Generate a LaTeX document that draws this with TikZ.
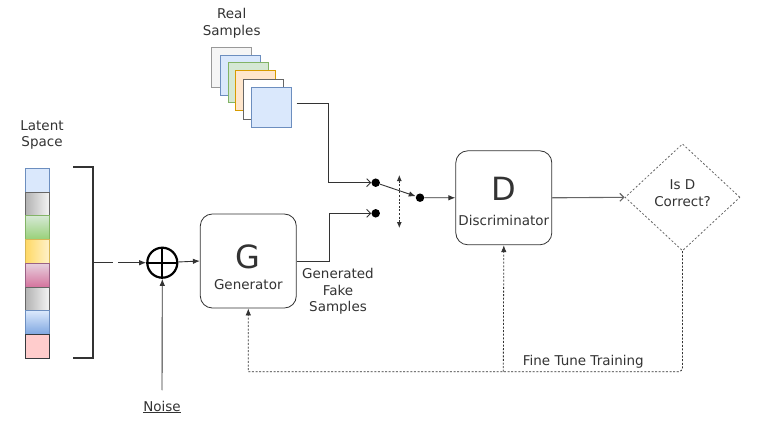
\documentclass[tikz,border=0pt]{standalone}
\usepackage{fontspec}
\setmainfont{DejaVu Sans}
\usetikzlibrary{arrows.meta,shapes.geometric,positioning}

\definecolor{txt}{HTML}{333333}
\definecolor{blueF}{HTML}{DAE8FC}
\definecolor{blueL}{HTML}{6C8EBF}
\definecolor{blueD}{HTML}{7EA6E0}
\definecolor{greenF}{HTML}{D5E8D4}
\definecolor{greenD}{HTML}{97D077}
\definecolor{greenL}{HTML}{82B366}
\definecolor{yellowF}{HTML}{FFF2CC}
\definecolor{yellowD}{HTML}{FFD966}
\definecolor{yellowL}{HTML}{D6B656}
\definecolor{pinkF}{HTML}{E6D0DE}
\definecolor{pinkD}{HTML}{D5739D}
\definecolor{pinkL}{HTML}{996185}
\definecolor{redF}{HTML}{FFCCCC}
\definecolor{redL}{HTML}{36393D}
\definecolor{grayF}{HTML}{F5F5F5}
\definecolor{grayD}{HTML}{B3B3B3}
\definecolor{grayL}{HTML}{666666}
\definecolor{orangeF}{HTML}{FFE6CC}
\definecolor{orangeL}{HTML}{D79B00}

\begin{document}
\begin{tikzpicture}[x=1pt,y=-1pt, font=\fontsize{13.5}{16.5}\selectfont, text=txt,
  cell/.style={draw, minimum width=24pt, minimum height=23.75pt, inner sep=0pt, line width=0.8pt},
  sample/.style={draw, minimum size=40pt, inner sep=0pt, line width=0.8pt},
  block/.style={draw=txt, rounded corners=12pt, minimum width=96pt, minimum height=94pt, line width=0.8pt},
  dot/.style={circle, fill=black, inner sep=0pt, minimum size=8.5pt},
  wire/.style={draw=txt, line width=0.9pt},
  tip/.style={-{Latex[length=7pt,width=5.5pt]}},
  opentip/.style={-{Straight Barb[length=4pt,width=8pt]}},
  feedback/.style={draw=txt, line width=0.8pt, dash pattern=on 2pt off 1.6pt}]
\useasboundingbox (0,0) rectangle (759,420);

% latent space
\node (latent) at (42,135) [align=center] {Latent\\Space};
\node[cell, fill=blueF, draw=blueL] (c1) at (37.7,180.2) {};
\node[cell, left color=grayD, right color=grayF, draw=grayL] (c2) at (37.7,204.0) {};
\node[cell, top color=greenF, bottom color=greenD, draw=greenL] (c3) at (37.7,227.7) {};
\node[cell, left color=yellowD, right color=yellowF, draw=yellowL] (c4) at (37.7,251.5) {};
\node[cell, top color=pinkF, bottom color=pinkD, draw=pinkL] (c5) at (37.7,275.2) {};
\node[cell, left color=grayD, right color=grayF, draw=grayL] (c6) at (37.7,299.0) {};
\node[cell, top color=blueF, bottom color=blueD, draw=blueL] (c7) at (37.7,322.7) {};
\node[cell, fill=redF, draw=redL] (c8) at (37.7,346.5) {};
\draw[txt, line width=1.4pt] (73,167) -- (93,167) -- (93,358) -- (73,358);
\draw[txt, line width=1.4pt] (93,262.7) -- (113,262.7);
\coordinate (brk) at (118,262.7);

% noise and sum
\node[circle, draw=black, line width=2.2pt, minimum size=30pt, inner sep=0pt] (sum) at (162.3,262.7) {};
\draw[black, line width=2.2pt] (sum.north) -- (sum.south) (sum.west) -- (sum.east);
\node (noise) at (162,407) {\underline{Noise}};
\draw[wire, tip] ([yshift=7pt]noise.north) -- (sum.south);
\draw[wire, tip] (brk) -- (sum);

% generator
\node[block] (gen) at (248.3,261) {};
\node (gname) at (248.3,257) {\fontsize{32}{32}\selectfont G};
\node (gtext) at (248.3,284.7) {Generator};
\draw[wire, tip] (sum) -- (gen.west);
\node (fake) at (338,291.5) [align=center] {Generated\\Fake\\Samples};

% real samples
\node (real) at (231.7,23.3) [align=center] {Real\\Samples};
\node[sample, fill=grayF, draw=black!40] (r1) at (231.7,67.3) {};
\node[sample, fill=blueF, draw=blueL] (r2) at (240,75) {};
\node[sample, fill=greenF, draw=greenL] (r3) at (248.3,82.7) {};
\node[sample, fill=orangeF, draw=orangeL] (r4) at (255.7,90.7) {};
\node[sample, fill=white, draw=grayL] (r5) at (263.3,99) {};
\node[sample, fill=blueF, draw=blueL] (r6) at (271.7,107) {};

% switch
\node[dot] (s1) at (375.7,182.7) {};
\node[dot] (s2) at (375.7,213.3) {};
\node[dot] (s3) at (420,197.7) {};
\coordinate (sw1) at (399.3,175);
\coordinate (sw2) at (399.3,228);
\draw[wire, opentip] (296.7,103.3) -- (328.3,103.3) |- (s1);
\draw[wire, opentip] (gen.east) -- (329,261) |- (s2);
\draw[wire, tip] (s1) -- (s3);
\draw[feedback, {Latex[length=6pt,width=5pt]}-{Latex[length=6pt,width=5pt]}] (sw1) -- (sw2);

% discriminator
\node[block] (dis) at (503.8,197.8) {};
\node (dname) at (503.8,188.7) {\fontsize{32}{32}\selectfont D};
\node (dtext) at (503.8,220) {Discriminator};
\draw[wire, tip] (s3) -- (dis.west);

% decision
\node[diamond, draw=black!60, dash pattern=on 2pt off 2pt, line width=0.8pt,
  minimum width=115pt, minimum height=107pt, aspect=1.07, inner sep=0pt] (chk) at (682.5,197.3) {};
\node (ctext) at (682.5,193.3) [align=center] {Is D\\Correct?};
\draw[draw=black!60, line width=1.1pt, opentip] (dis.east) -- (chk.west);

% fine tune feedback
\coordinate (ft) at (503.3,371.7);
\node (train) at (583.3,361.7) {Fine Tune Training};
\draw[feedback, tip] (chk.south) [rounded corners=4pt] |- (ft) [sharp corners] -| (gen.south);
\draw[feedback, tip] (ft) -- (dis.south);
\end{tikzpicture}
\end{document}
